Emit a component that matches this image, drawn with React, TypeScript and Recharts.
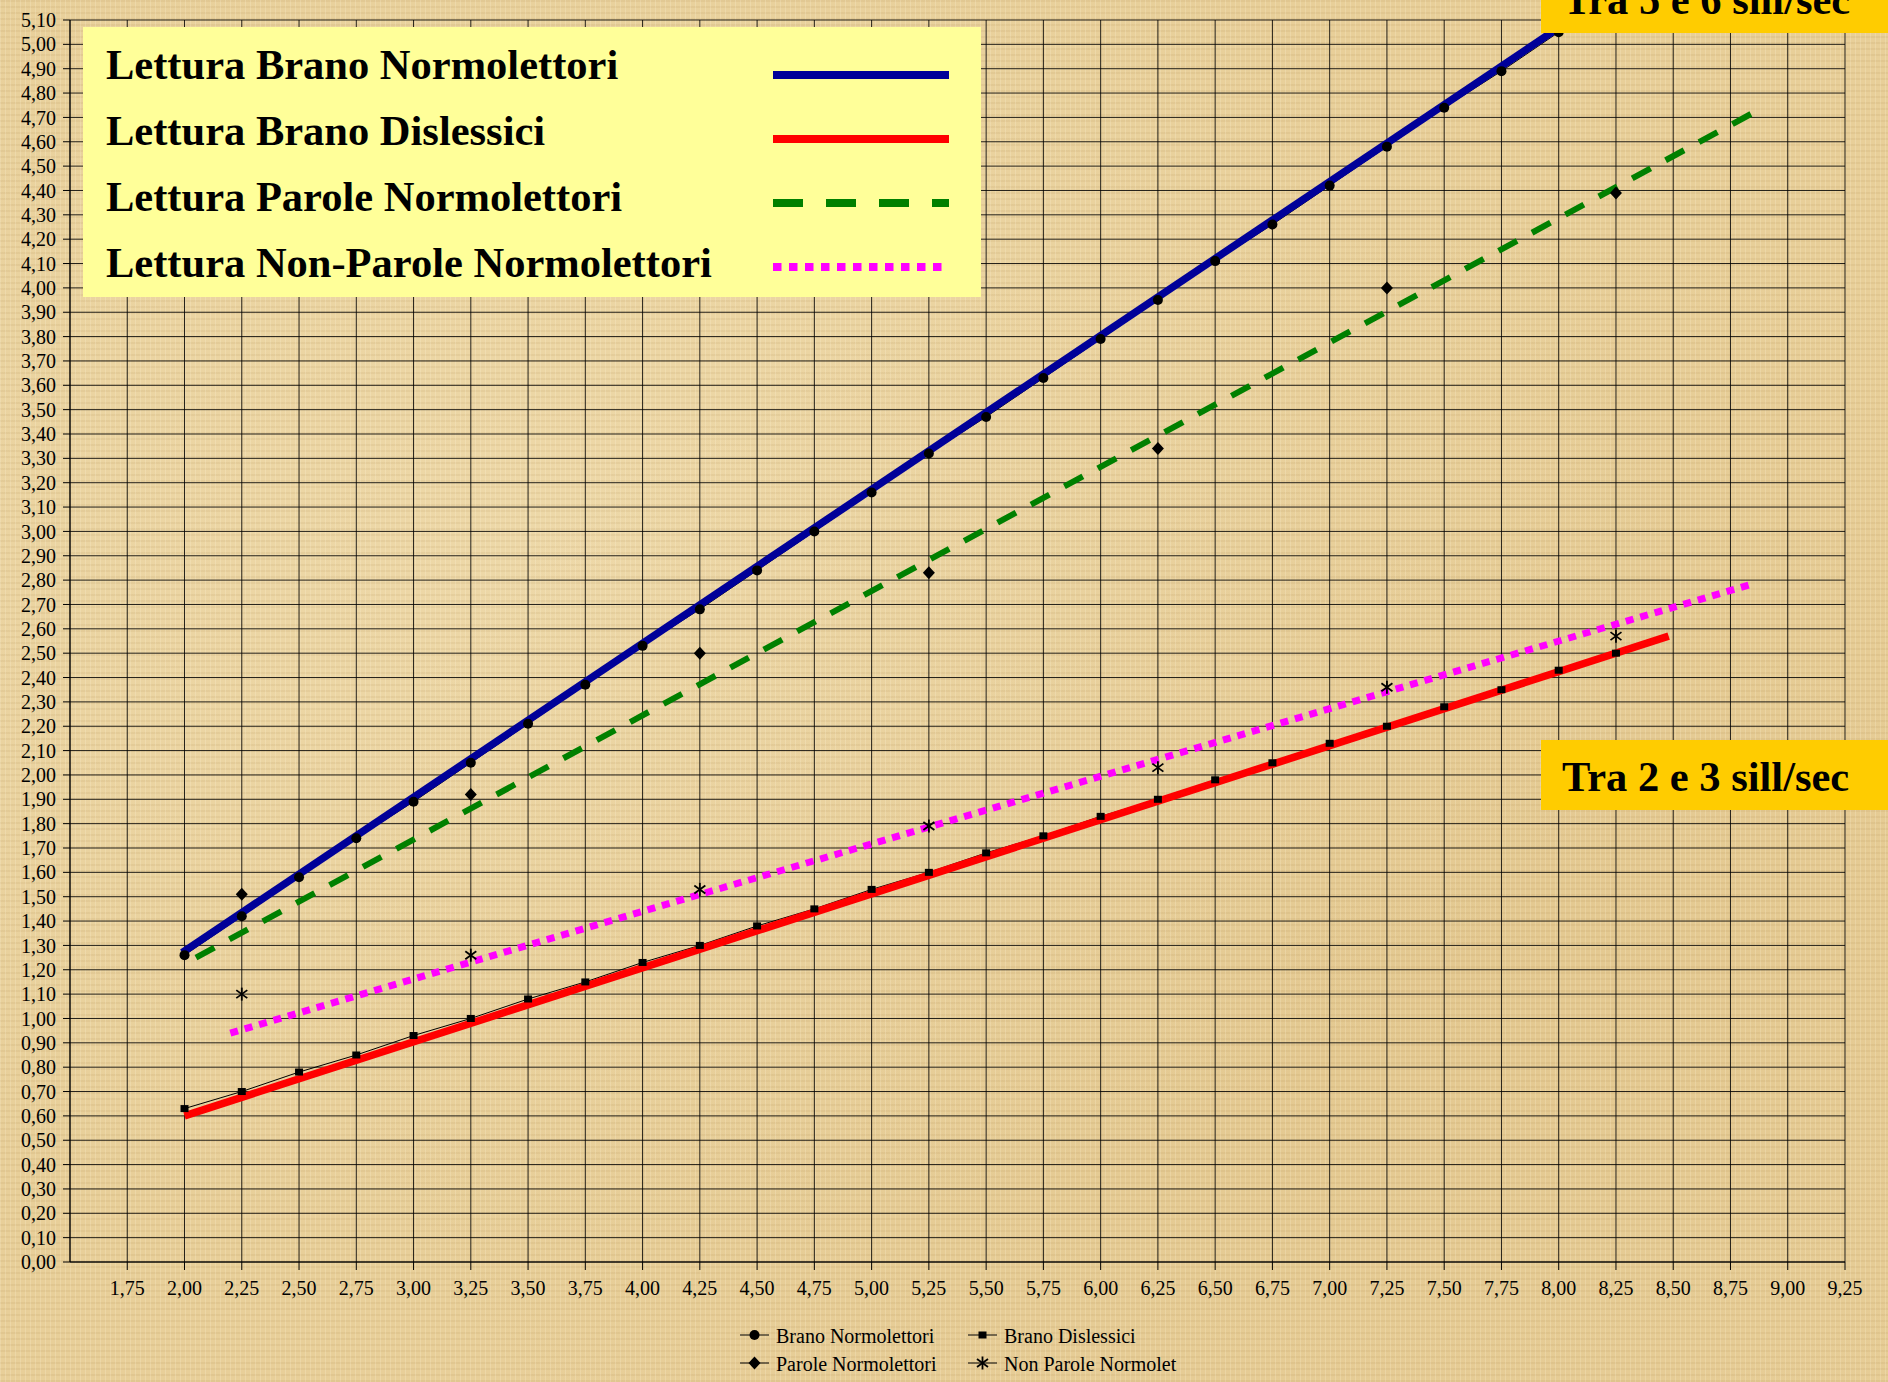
import React from 'react';
import { ComposedChart, Line, Scatter, XAxis, YAxis, CartesianGrid } from 'recharts';

const xBrano = [2.0, 2.25, 2.5, 2.75, 3.0, 3.25, 3.5, 3.75, 4.0, 4.25, 4.5, 4.75, 5.0, 5.25, 5.5, 5.75, 6.0, 6.25, 6.5, 6.75, 7.0, 7.25, 7.5, 7.75, 8.0];
const branoNormolettori = [1.26, 1.42, 1.58, 1.74, 1.89, 2.05, 2.21, 2.37, 2.53, 2.68, 2.84, 3.0, 3.16, 3.32, 3.47, 3.63, 3.79, 3.95, 4.11, 4.26, 4.42, 4.58, 4.74, 4.89, 5.05];
const xDislessici = [2.0, 2.25, 2.5, 2.75, 3.0, 3.25, 3.5, 3.75, 4.0, 4.25, 4.5, 4.75, 5.0, 5.25, 5.5, 5.75, 6.0, 6.25, 6.5, 6.75, 7.0, 7.25, 7.5, 7.75, 8.0, 8.25];
const branoDislessici = [0.63, 0.7, 0.78, 0.85, 0.93, 1.0, 1.08, 1.15, 1.23, 1.3, 1.38, 1.45, 1.53, 1.6, 1.68, 1.75, 1.83, 1.9, 1.98, 2.05, 2.13, 2.2, 2.28, 2.35, 2.43, 2.5];
const xParole = [2.25, 3.25, 4.25, 5.25, 6.25, 7.25, 8.25];
const paroleNormolettori = [1.51, 1.92, 2.5, 2.83, 3.34, 4.0, 4.39];
const nonParoleNormolet = [1.1, 1.26, 1.53, 1.79, 2.03, 2.36, 2.57];

// hand drawn trend lines (start / end)
const bluX = [1.99, 8.05];
const bluY = [1.27, 5.1];
const rossoX = [2.0, 8.48];
const rossoY = [0.6, 2.57];
const verdeX = [2.05, 8.89];
const verdeY = [1.25, 4.74];
const magentaX = [2.2, 8.83];
const magentaY = [0.94, 2.78];

const xTicks = Array.from({ length: 31 }, (_, i) => 1.75 + i * 0.25);
const yTicks = Array.from({ length: 52 }, (_, i) => +(i / 10).toFixed(1));

const legendTop = [
  'Lettura Brano Normolettori',
  'Lettura Brano Dislessici',
  'Lettura Parole Normolettori',
  'Lettura Non-Parole Normolettori',
];

const pts = (xs: number[], ys: number[]) => xs.map((x, i) => ({ x, y: ys[i] }));
const fmt = (v: number) => v.toFixed(2).replace('.', ',');

const SERIF = '"Liberation Serif", "Times New Roman", serif';

const Circle = ({ cx, cy }: any) => <circle cx={cx} cy={cy} r={5} fill="#000" />;
const Square = ({ cx, cy }: any) => <rect x={cx - 4} y={cy - 3.5} width={8} height={7} fill="#000" />;
const Diamond = ({ cx, cy }: any) => (
  <polygon points={`${cx},${cy - 6.5} ${cx + 6},${cy} ${cx},${cy + 6.5} ${cx - 6},${cy}`} fill="#000" />
);
const Star = ({ cx, cy }: any) => (
  <g stroke="#000" strokeWidth={1.8}>
    <line x1={cx} y1={cy - 6.5} x2={cx} y2={cy + 6.5} />
    <line x1={cx - 5.5} y1={cy - 4} x2={cx + 5.5} y2={cy + 4} />
    <line x1={cx - 5.5} y1={cy + 4} x2={cx + 5.5} y2={cy - 4} />
  </g>
);

const paper = {
  backgroundColor: '#E8CF99',
  backgroundImage: [
    'repeating-linear-gradient(90deg, rgba(255,248,225,0.2) 0px, rgba(255,248,225,0.2) 1px, transparent 1px, transparent 5px)',
    'repeating-linear-gradient(0deg, rgba(140,100,40,0.08) 0px, rgba(140,100,40,0.08) 2px, transparent 2px, transparent 6px)',
    'radial-gradient(ellipse at 30% 40%, rgba(255,245,215,0.25), transparent 60%)',
    'radial-gradient(ellipse at 75% 70%, rgba(200,160,90,0.15), transparent 55%)',
  ].join(','),
};

const BottomItem = ({ x, y, label, Marker }: any) => (
  <g>
    <line x1={x} y1={y} x2={x + 29} y2={y} stroke="#000" strokeWidth={1} />
    <Marker cx={x + 14.5} cy={y} />
    <text x={x + 36} y={y + 8} fontSize={20} fontFamily={SERIF} fill="#000">{label}</text>
  </g>
);

const App: React.FC = () => {
  const legendColors = ['#000099', '#FF0000', '#008000', '#FF00FF'];
  const legendDash = ['', '', '30 23', '8.5 7.5'];

  return (
    <div style={{ position: 'absolute', left: 0, top: 0, width: 1888, height: 1382, overflow: 'hidden', ...paper }}>
      <ComposedChart width={1888} height={1382} margin={{ top: 20, right: 43, left: 0, bottom: 80 }}>
        <CartesianGrid stroke="#000" strokeOpacity={0.85} strokeWidth={1} />
        <XAxis
          dataKey="x"
          type="number"
          domain={[1.5, 9.25]}
          ticks={xTicks}
          interval={0}
          allowDataOverflow
          tickFormatter={fmt}
          height={40}
          tickSize={8}
          tickMargin={11}
          axisLine={{ stroke: '#000' }}
          tickLine={{ stroke: '#000' }}
          tick={{ fill: '#000', fontSize: 20, fontFamily: SERIF }}
        />
        <YAxis
          type="number"
          domain={[0, 5.1]}
          ticks={yTicks}
          interval={0}
          allowDataOverflow
          tickFormatter={fmt}
          width={70}
          tickSize={7}
          tickMargin={7}
          axisLine={{ stroke: '#000' }}
          tickLine={{ stroke: '#000' }}
          tick={{ fill: '#000', fontSize: 20, fontFamily: SERIF }}
        />

        <Line data={pts(xBrano, branoNormolettori)} dataKey="y" name="Brano Normolettori" stroke="#000" strokeWidth={1}
          dot={(p: any) => <Circle key={`c${p.index}`} cx={p.cx} cy={p.cy} />} isAnimationActive={false} />
        <Line data={pts(xDislessici, branoDislessici)} dataKey="y" name="Brano Dislessici" stroke="#000" strokeWidth={1}
          dot={(p: any) => <Square key={`s${p.index}`} cx={p.cx} cy={p.cy} />} isAnimationActive={false} />
        <Scatter data={pts(xParole, paroleNormolettori)} dataKey="y" name="Parole Normolettori"
          shape={(p: any) => <Diamond cx={p.cx} cy={p.cy} />} isAnimationActive={false} />
        <Scatter data={pts(xParole, nonParoleNormolet)} dataKey="y" name="Non Parole Normolet"
          shape={(p: any) => <Star cx={p.cx} cy={p.cy} />} isAnimationActive={false} />

        <Line data={pts(bluX, bluY)} dataKey="y" stroke="#000099" strokeWidth={7.5} dot={false} isAnimationActive={false} />
        <Line data={pts(rossoX, rossoY)} dataKey="y" stroke="#FF0000" strokeWidth={7.5} dot={false} isAnimationActive={false} />
        <Line data={pts(verdeX, verdeY)} dataKey="y" stroke="#008000" strokeWidth={6} strokeDasharray="21 17" dot={false} isAnimationActive={false} />
        <Line data={pts(magentaX, magentaY)} dataKey="y" stroke="#FF00FF" strokeWidth={7} strokeDasharray="8 7" dot={false} isAnimationActive={false} />
      </ComposedChart>

      <svg width={1888} height={1382} style={{ position: 'absolute', left: 0, top: 0, pointerEvents: 'none' }}>
        <rect x={83} y={27} width={898} height={270} fill="#FFFF99" />
        {legendTop.map((t, i) => (
          <g key={t}>
            <text x={106} y={79 + i * 66} fontSize={42.5} fontWeight="bold" fontFamily={SERIF} fill="#000">{t}</text>
            <line x1={773} x2={949} y1={75 + i * 64} y2={75 + i * 64} stroke={legendColors[i]} strokeWidth={8}
              strokeDasharray={legendDash[i] || undefined} />
          </g>
        ))}

        <rect x={1541} y={-40} width={360} height={73} fill="#FFCC00" />
        <text x={1563} y={14} fontSize={42.5} fontWeight="bold" fontFamily={SERIF} fill="#000">Tra 5 e 6 sill/sec</text>
        <rect x={1541} y={740} width={360} height={70} fill="#FFCC00" />
        <text x={1562} y={791} fontSize={42.5} fontWeight="bold" fontFamily={SERIF} fill="#000">Tra 2 e 3 sill/sec</text>

        <BottomItem x={740} y={1335} label="Brano Normolettori" Marker={Circle} />
        <BottomItem x={968} y={1335} label="Brano Dislessici" Marker={Square} />
        <BottomItem x={740} y={1363} label="Parole Normolettori" Marker={Diamond} />
        <BottomItem x={968} y={1363} label="Non Parole Normolet" Marker={Star} />
      </svg>
    </div>
  );
};

export default App;
